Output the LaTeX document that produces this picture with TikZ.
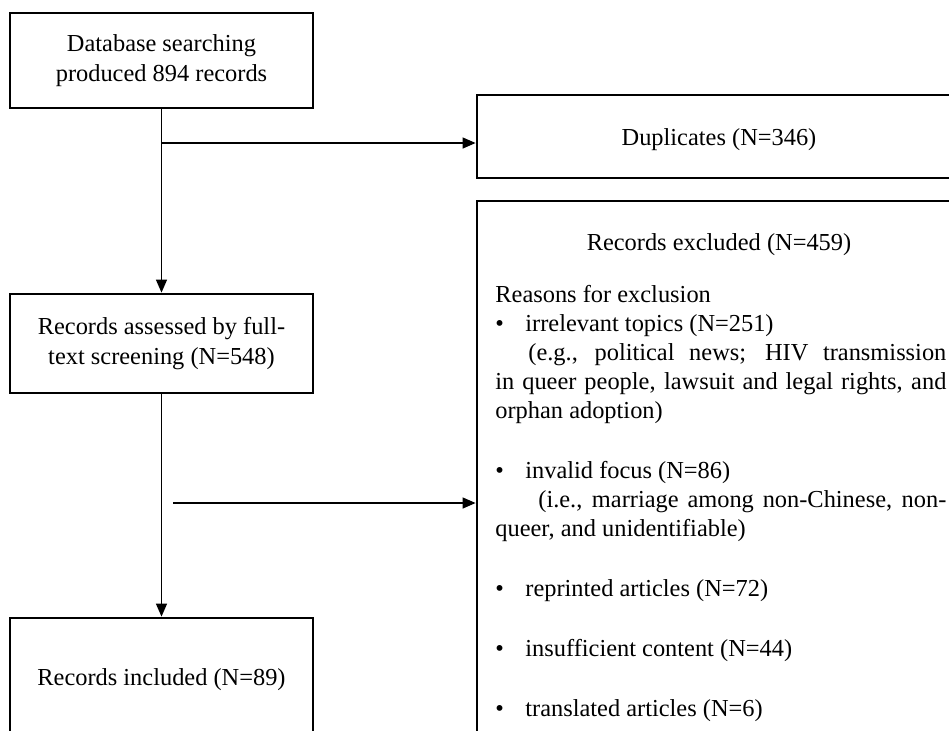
\documentclass[tikz,border=0pt]{standalone}
\usepackage{fontspec}
\setmainfont{Liberation Serif}
\usetikzlibrary{arrows.meta}
\newcommand{\itembul}{\makebox[15pt][l]{\textbullet}}
\begin{document}
\begin{tikzpicture}[x=0.5pt, y=-0.5pt,
  box/.style={draw, line width=1.4pt, inner sep=0pt, align=center, font=\fontsize{12.2}{14.8}\selectfont},
  txt/.style={inner sep=0pt, font=\fontsize{12.2}{14.5}\selectfont},
  arr/.style={line width=0.65pt, -{Triangle[length=6.5pt,width=5.5pt]}}]
\useasboundingbox (0,0) rectangle (949,730);
\node[box, minimum width=151.5pt, minimum height=47.5pt] (rec0) at (161.5,60.5) {Database searching\\produced 894 records};
\node[box, minimum width=151.5pt, minimum height=49.5pt] (rec1) at (161.5,343.5) {Records assessed by full-\\text screening (N=548)};
\node[box, minimum width=151.5pt, minimum height=58pt, text height=12pt] (rec2) at (161.5,676) {Records included (N=89)};
\node[box, minimum width=242pt, minimum height=41.5pt, text height=12pt] (exc0) at (719,136.5) {Duplicates (N=346)};
\node[box, minimum width=242pt, minimum height=271.5pt] (exc1) at (719,472.5) {};
\node[txt] (exc1t) at (719,245) {Records excluded (N=459)};
\node[txt, anchor=north west, text width=225.5pt, align=justify] (exc1r) at (495,285) {\noindent Reasons for exclusion\\
\itembul irrelevant topics (N=251)\\
\hspace*{16.5pt}(e.g., political news; HIV transmission\linebreak in queer people, lawsuit and legal rights, and\linebreak orphan adoption)\\[15.5pt]
\itembul invalid focus (N=86)\\
\hspace*{21.5pt}(i.e., marriage among non-Chinese, non-\linebreak queer, and unidentifiable)\\[15.5pt]
\itembul reprinted articles (N=72)\\[15.5pt]
\itembul insufficient content (N=44)\\[15.5pt]
\itembul translated articles (N=6)};
\coordinate (br0) at (161.5,143);
\coordinate (br1) at (173,503);
\draw[arr] (rec0) -- (rec1);
\draw[arr] (br0) -- (br0 -| exc0.west);
\draw[arr] (rec1) -- (rec2);
\draw[arr] (br1) -- (br1 -| exc1.west);
\end{tikzpicture}
\end{document}
